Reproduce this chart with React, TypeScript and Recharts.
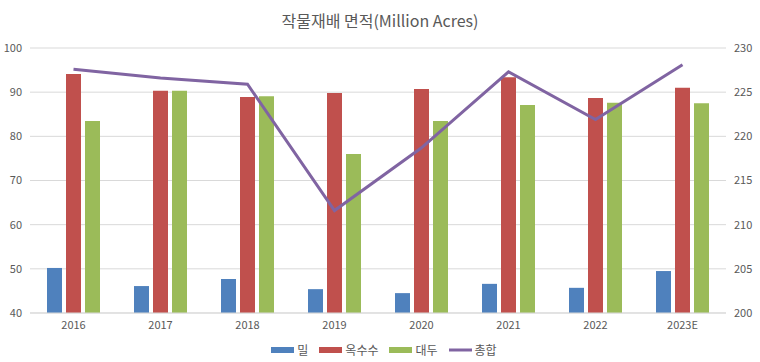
import { ComposedChart, Bar, Line, XAxis, YAxis, CartesianGrid, Legend } from 'recharts';

const years = ['2016', '2017', '2018', '2019', '2020', '2021', '2022', '2023E'];
const wheat = [50.2, 46.1, 47.7, 45.4, 44.5, 46.6, 45.7, 49.5];
const corn = [94.1, 90.3, 88.9, 89.8, 90.7, 93.4, 88.7, 91.0];
const soy = [83.5, 90.3, 89.1, 76.0, 83.5, 87.1, 87.6, 87.5];
const total = [227.6, 226.6, 225.9, 211.6, 218.7, 227.3, 221.9, 228.1];
const leftTicks = [40, 50, 60, 70, 80, 90, 100];
const rightTicks = [200, 205, 210, 215, 220, 225, 230];

const chartData = years.map((year, i) => ({
    year,
    wheat: wheat[i],
    corn: corn[i],
    soy: soy[i],
    total: total[i]
}));

const font = '"Noto Sans CJK KR", "Noto Sans", sans-serif';
const textColor = '#595959';

const legendItems = [
    { label: '밀', color: '#4f81bd', kind: 'rect' },
    { label: '옥수수', color: '#c0504d', kind: 'rect' },
    { label: '대두', color: '#9bbb59', kind: 'rect' },
    { label: '총합', color: '#8064a2', kind: 'line' }
];

const LegendContent = () => (
    <div style={{ display: 'flex', justifyContent: 'center', alignItems: 'center', gap: 11, paddingTop: 8, paddingLeft: 8, fontFamily: font, fontSize: 12, color: textColor }}>
        {legendItems.map((item) => (
            <div key={item.label} style={{ display: 'flex', alignItems: 'center', gap: 3 }}>
                <svg width={23} height={8}>
                    {item.kind === 'rect'
                        ? <rect x={0} y={1} width={23} height={6} fill={item.color} />
                        : <line x1={0} y1={4} x2={23} y2={4} stroke={item.color} strokeWidth={3} />}
                </svg>
                <span>{item.label}</span>
            </div>
        ))}
    </div>
);

const App = () => {
    return (
        <div style={{ position: 'absolute', left: 0, top: 0, width: 760, height: 362, background: '#fff' }}>
            <div style={{ position: 'absolute', top: 8, width: 760, textAlign: 'center', fontFamily: font, fontSize: 16, color: textColor }}>
                작물재배 면적(Million Acres)
            </div>
            <ComposedChart
                width={760}
                height={362}
                data={chartData}
                margin={{ top: 48, right: 0, bottom: 4, left: 0 }}
                barGap={4}
            >
                <CartesianGrid stroke="#d9d9d9" vertical={false} yAxisId="left" />
                <XAxis
                    dataKey="year"
                    tickLine={false}
                    axisLine={{ stroke: '#d9d9d9' }}
                    height={20}
                    tick={{ fill: textColor, fontSize: 11, fontFamily: font }}
                />
                <YAxis
                    yAxisId="left"
                    domain={[40, 100]}
                    ticks={leftTicks}
                    width={30}
                    tickLine={false}
                    axisLine={false}
                    tick={{ fill: textColor, fontSize: 11, fontFamily: font }}
                />
                <YAxis
                    yAxisId="right"
                    orientation="right"
                    domain={[200, 230]}
                    ticks={rightTicks}
                    width={34}
                    tickLine={false}
                    axisLine={false}
                    tick={{ fill: textColor, fontSize: 11, fontFamily: font }}
                />
                <Legend verticalAlign="bottom" height={25} content={<LegendContent />} />
                <Bar yAxisId="left" dataKey="wheat" name="밀" fill="#4f81bd" barSize={15} isAnimationActive={false} />
                <Bar yAxisId="left" dataKey="corn" name="옥수수" fill="#c0504d" barSize={15} isAnimationActive={false} />
                <Bar yAxisId="left" dataKey="soy" name="대두" fill="#9bbb59" barSize={15} isAnimationActive={false} />
                <Line
                    yAxisId="right"
                    type="linear"
                    dataKey="total"
                    name="총합"
                    stroke="#8064a2"
                    strokeWidth={3}
                    dot={false}
                    isAnimationActive={false}
                />
            </ComposedChart>
        </div>
    );
};

export default App;
